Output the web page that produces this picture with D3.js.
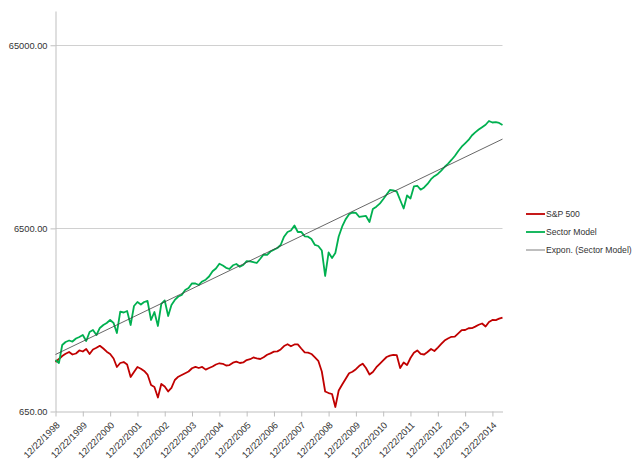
<!DOCTYPE html>
<html>
<head>
<meta charset="utf-8">
<script src="https://cdn.jsdelivr.net/npm/d3@7"></script>
<style>
  body { margin: 0; background: #fff; }
  text { font-family: "Liberation Sans", Arial, sans-serif; }
</style>
</head>
<body>
<script>
// sample dates (every ~6 weeks)
var dates = [
  "1998-12-22",
  "1999-02-06","1999-03-22","1999-05-06","1999-06-22","1999-08-06","1999-09-22","1999-11-06","1999-12-22",
  "2000-02-06","2000-03-22","2000-05-06","2000-06-22","2000-08-06","2000-09-22","2000-11-06","2000-12-22",
  "2001-02-06","2001-03-22","2001-05-06","2001-06-22","2001-08-06","2001-09-22","2001-11-06","2001-12-22",
  "2002-02-06","2002-03-22","2002-05-06","2002-06-22","2002-08-06","2002-09-22","2002-11-06","2002-12-22",
  "2003-02-06","2003-03-22","2003-05-06","2003-06-22","2003-08-06","2003-09-22","2003-11-06","2003-12-22",
  "2004-02-06","2004-03-22","2004-05-06","2004-06-22","2004-08-06","2004-09-22","2004-11-06","2004-12-22",
  "2005-02-06","2005-03-22","2005-05-06","2005-06-22","2005-08-06","2005-09-22","2005-11-06","2005-12-22",
  "2006-02-06","2006-03-22","2006-05-06","2006-06-22","2006-08-06","2006-09-22","2006-11-06","2006-12-22",
  "2007-02-06","2007-03-22","2007-05-06","2007-06-22","2007-08-06","2007-09-22","2007-11-06","2007-12-22",
  "2008-02-06","2008-03-22","2008-05-06","2008-06-22","2008-08-06","2008-09-22","2008-11-06","2008-12-22",
  "2009-02-06","2009-03-22","2009-05-06","2009-06-22","2009-08-06","2009-09-22","2009-11-06","2009-12-22",
  "2010-02-06","2010-03-22","2010-05-06","2010-06-22","2010-08-06","2010-09-22","2010-11-06","2010-12-22",
  "2011-02-06","2011-03-22","2011-05-06","2011-06-22","2011-08-06","2011-09-22","2011-11-06","2011-12-22",
  "2012-02-06","2012-03-22","2012-05-06","2012-06-22","2012-08-06","2012-09-22","2012-11-06","2012-12-22",
  "2013-02-06","2013-03-22","2013-05-06","2013-06-22","2013-08-06","2013-09-22","2013-11-06","2013-12-22",
  "2014-02-06","2014-03-22","2014-05-06","2014-06-22","2014-08-06","2014-09-22","2014-11-06","2014-12-22",
  "2015-02-06","2015-03-22","2015-05-06"
];

var sp500 = [
  1211,
  1258,1306,1343,1374,1331,1348,1400,1382,
  1426,1340,1418,1448,1485,1435,1379,1340,
  1266,1138,1196,1211,1174,1003,1068,1138,
  1113,1082,1035,907,885,775,919,890,
  836,874,966,1007,1029,1052,1075,1120,
  1139,1123,1138,1100,1123,1145,1174,1192,
  1184,1159,1165,1201,1216,1196,1204,1242,
  1255,1282,1266,1258,1285,1326,1351,1379,
  1384,1418,1481,1515,1476,1510,1513,1435,
  1368,1362,1340,1282,1230,1075,836,820,
  810,688,846,913,978,1052,1072,1106,
  1155,1186,1123,1035,1068,1135,1184,1237,
  1290,1313,1323,1319,1123,1204,1166,1274,
  1360,1400,1340,1331,1374,1426,1391,1452,
  1519,1587,1628,1663,1665,1736,1809,1811,
  1851,1853,1891,1934,1966,1893,2003,2054,
  2050,2088,2117
];

var sectorModel = [
  1242,
  1196,1500,1558,1587,1567,1628,1659,1701,
  1577,1766,1811,1701,1858,1929,1978,2054,
  1978,1744,2280,2257,2300,1929,2450,2576,
  2496,2576,2609,2054,2272,1905,2512,2625,
  2160,2481,2642,2760,2813,2996,3072,3259,
  3251,3190,3334,3410,3550,3790,3925,4165,
  4076,3960,3901,4087,4154,4010,4102,4303,
  4290,4249,4207,4435,4681,4664,4861,4972,
  5080,5275,5856,6212,6330,6741,6212,6220,
  5885,5856,5689,5275,5209,4923,3572,4800,
  4480,4771,5870,6657,7279,7761,7938,7900,
  7502,7550,7597,7045,8296,8539,8868,9383,
  9955,10534,10480,10311,9289,8348,9830,9466,
  11008,11106,10574,10871,11360,12066,12530,12882,
  13444,14067,14645,15361,16154,17202,18158,18928,
  19753,20904,21736,22514,23175,23916,25085,24616,
  24709,24461,23855
];

var yTicks = [650, 6500, 65000];
var yMax = 100000;
var xTickLabels = [
  "12/22/1998","12/22/1999","12/22/2000","12/22/2001","12/22/2002","12/22/2003",
  "12/22/2004","12/22/2005","12/22/2006","12/22/2007","12/22/2008","12/22/2009",
  "12/22/2010","12/22/2011","12/22/2012","12/22/2013","12/22/2014"
];
var seriesNames = ["S&P 500", "Sector Model", "Expon. (Sector Model)"];
var colors = ["#c00000", "#00b050", "#404040"];

var width = 640, height = 465;
var plot = { left: 55.5, right: 502.5, top: 11, bottom: 411.5 };

var parseDate = d3.timeParse("%Y-%m-%d");
var parseTick = d3.timeParse("%m/%d/%Y");
var times = dates.map(parseDate);

var svg = d3.select("body")
    .append("svg")
    .attr("width", width)
    .attr("height", height);

var x = d3.scaleTime()
    .domain([times[0], times[times.length - 1]])
    .range([plot.left, plot.right]);

var y = d3.scaleLog()
    .domain([yTicks[0], yMax])
    .range([plot.bottom, plot.top]);

// horizontal gridlines
svg.append("g")
    .selectAll("line")
    .data(yTicks.slice(1))
    .enter().append("line")
    .attr("x1", plot.left)
    .attr("x2", plot.right)
    .attr("y1", function (d) { return Math.round(y(d)) + 0.5; })
    .attr("y2", function (d) { return Math.round(y(d)) + 0.5; })
    .attr("stroke", "#d0d0d0")
    .attr("stroke-width", 1);

// y axis
var yAxis = svg.append("g")
    .attr("transform", "translate(" + plot.left + ",0)")
    .call(d3.axisLeft(y)
        .tickValues(yTicks)
        .tickFormat(d3.format(".2f"))
        .tickSize(5)
        .tickSizeOuter(0));

// x axis
var xAxis = svg.append("g")
    .attr("transform", "translate(0," + plot.bottom + ")")
    .call(d3.axisBottom(x)
        .tickValues(xTickLabels.map(parseTick))
        .tickFormat(d3.timeFormat("%m/%d/%Y"))
        .tickSize(5)
        .tickSizeOuter(0));

xAxis.selectAll("text")
    .attr("x", null)
    .attr("y", null)
    .attr("dy", "0.35em")
    .attr("text-anchor", "end")
    .attr("transform", "translate(2,12) rotate(-45)");

[yAxis, xAxis].forEach(function (ax) {
    ax.select(".domain").attr("stroke", "#bfbfbf");
    ax.selectAll(".tick line").attr("stroke", "#bfbfbf");
    ax.selectAll("text")
        .style("font-family", '"Liberation Sans", Arial, sans-serif')
        .style("font-size", "9.3px")
        .attr("fill", "#333");
});

// series
var line = d3.line()
    .x(function (d, i) { return x(times[i]); })
    .y(function (d) { return y(d); });

svg.append("path")
    .datum(sp500)
    .attr("d", line)
    .attr("fill", "none")
    .attr("stroke", colors[0])
    .attr("stroke-width", 1.8)
    .attr("stroke-linejoin", "round");

svg.append("path")
    .datum(sectorModel)
    .attr("d", line)
    .attr("fill", "none")
    .attr("stroke", colors[1])
    .attr("stroke-width", 1.8)
    .attr("stroke-linejoin", "round");

// exponential trendline: least squares on ln(value)
var tx = times.map(function (t) { return +t; });
var ly = sectorModel.map(function (v) { return Math.log(v); });
var mx = d3.mean(tx), my = d3.mean(ly);
var sxy = d3.sum(tx, function (t, i) { return (t - mx) * (ly[i] - my); });
var sxx = d3.sum(tx, function (t) { return (t - mx) * (t - mx); });
var slope = sxy / sxx, intercept = my - slope * mx;
var trend = [tx[0], tx[tx.length - 1]].map(function (t) {
    return { t: t, v: Math.exp(intercept + slope * t) };
});

svg.append("path")
    .datum(trend)
    .attr("d", d3.line()
        .x(function (d) { return x(d.t); })
        .y(function (d) { return y(d.v); }))
    .attr("fill", "none")
    .attr("stroke", colors[2])
    .attr("stroke-width", 0.8);

// legend
var legend = svg.append("g")
    .attr("transform", "translate(526,214)");

var item = legend.selectAll("g")
    .data(seriesNames)
    .enter().append("g")
    .attr("transform", function (d, i) { return "translate(0," + (i * 18) + ")"; });

item.append("line")
    .attr("x1", 0)
    .attr("x2", 19)
    .attr("stroke", function (d, i) { return i == 2 ? "#7f7f7f" : colors[i]; })
    .attr("stroke-width", function (d, i) { return i == 2 ? 1 : 1.8; });

// Calibri-like narrower text
item.append("text")
    .attr("transform", "translate(20,0) scale(0.88,1)")
    .attr("dy", "0.35em")
    .style("font-size", "9.8px")
    .attr("fill", "#333")
    .text(function (d) { return d; });
</script>
</body>
</html>
